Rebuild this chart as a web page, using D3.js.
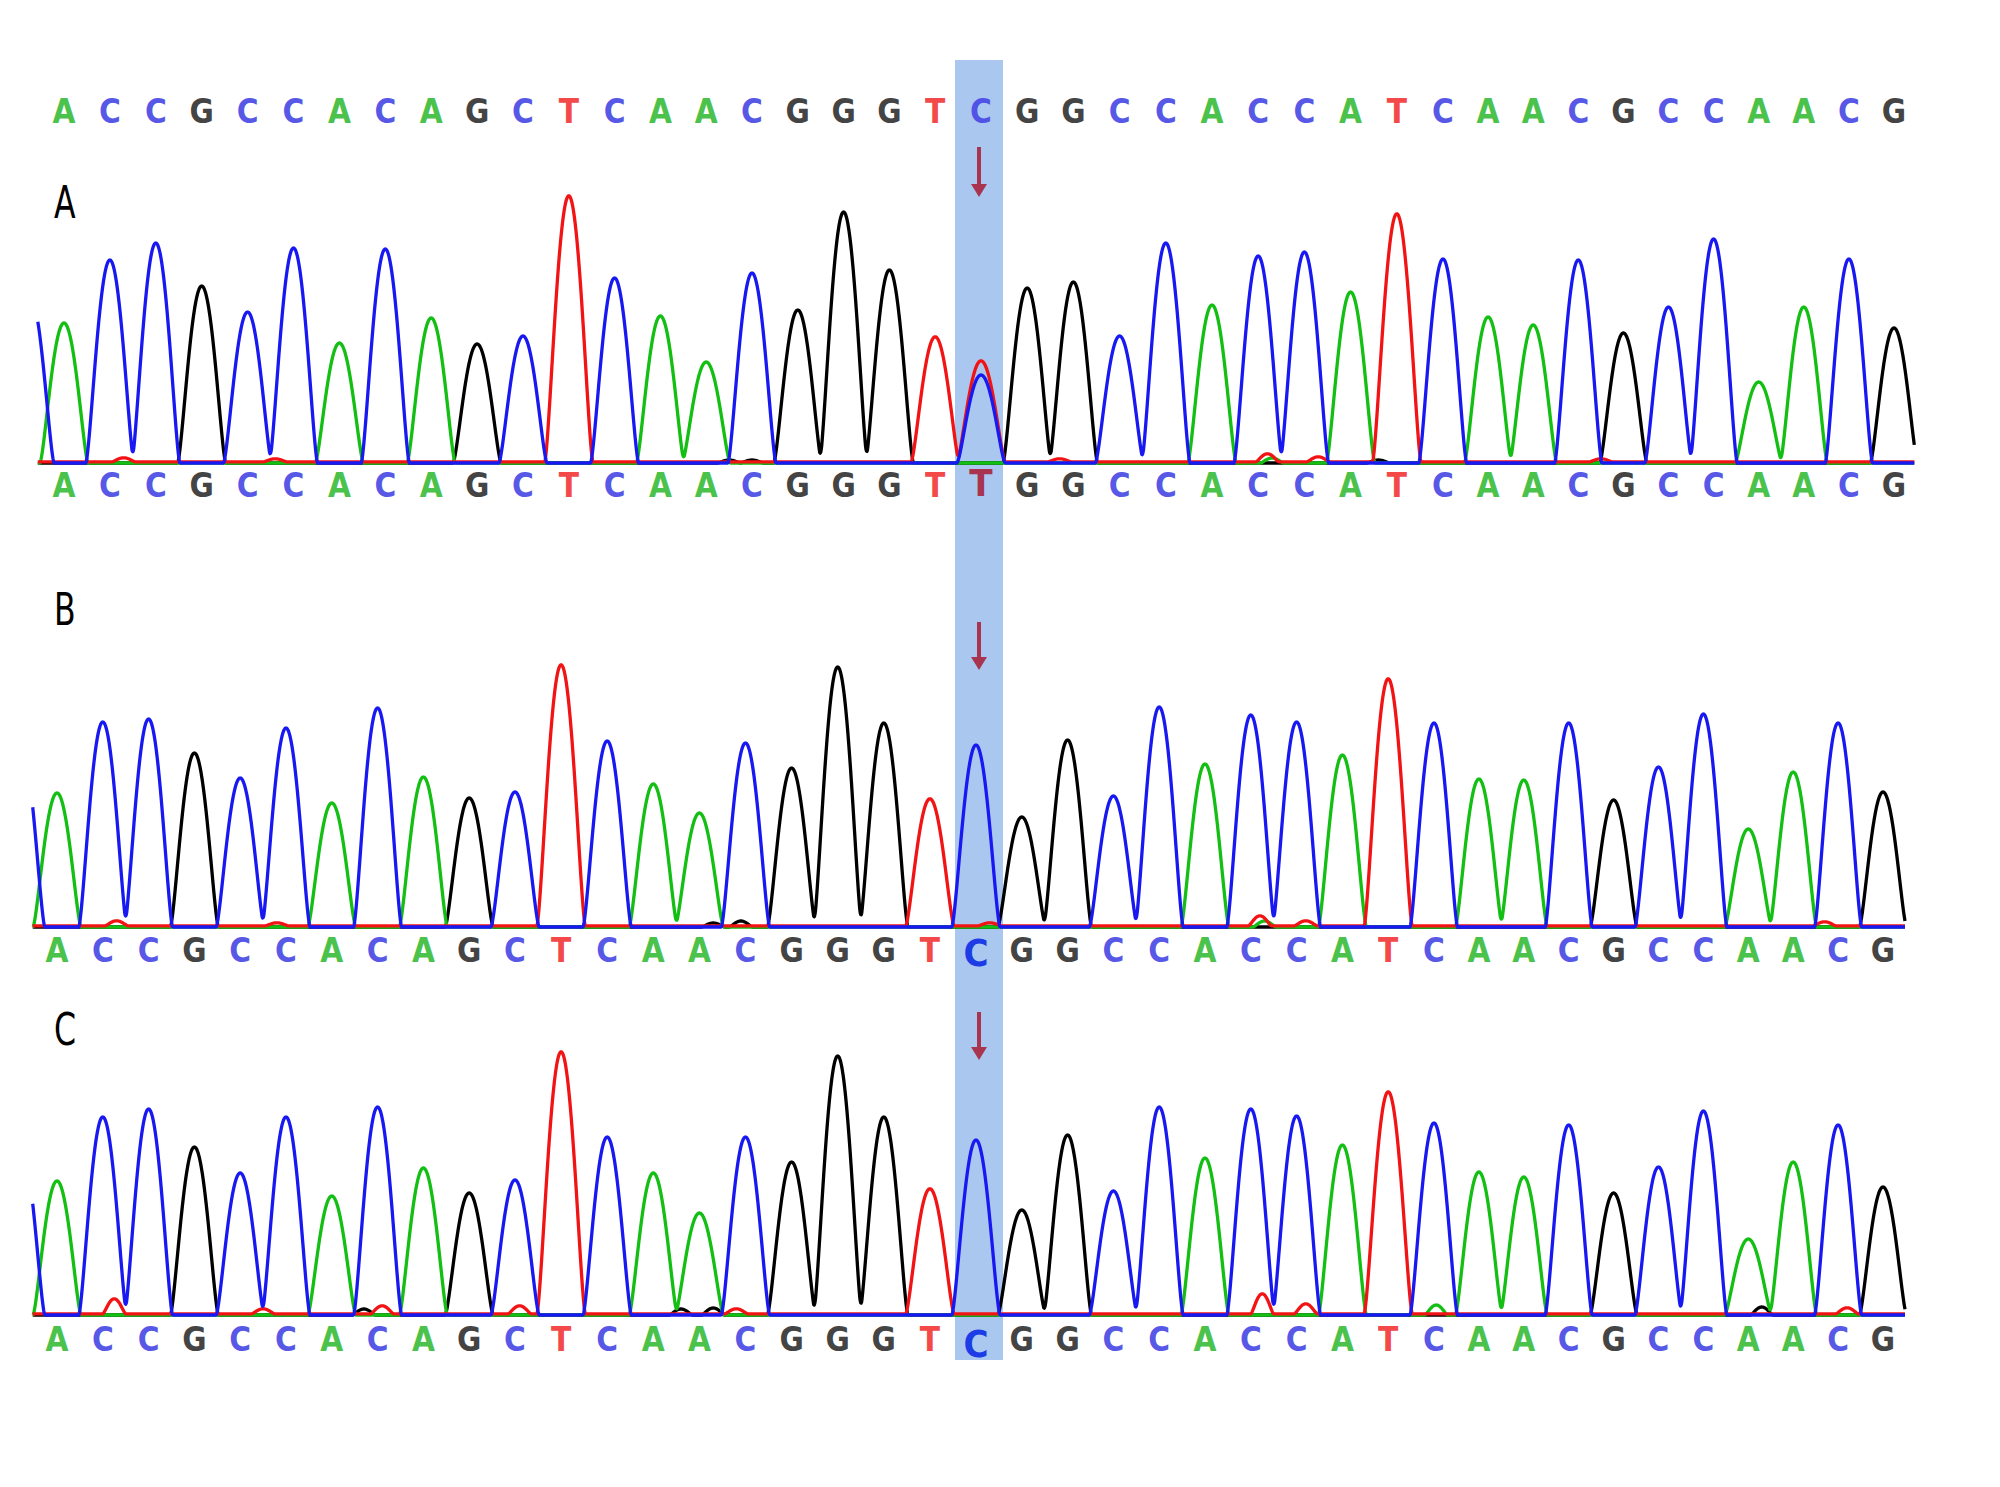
<!DOCTYPE html>
<html>
<head>
<meta charset="utf-8">
<script src="https://cdn.jsdelivr.net/npm/d3@7"></script>
<style>
  html, body { margin: 0; padding: 0; background: #fff; }
  svg { display: block; }
</style>
</head>
<body>
<script>
// reference sequence (top row of panel A)
const bases = ['A','C','C','G','C','C','A','C','A','G','C','T','C','A','A','C','G','G','G','T',
  'C','G','G','C','C','A','C','C','A','T','C','A','A','C','G','C','C','A','A','C','G'];

// base calls under each trace
const callA = ['A','C','C','G','C','C','A','C','A','G','C','T','C','A','A','C','G','G','G','T',
  'T','G','G','C','C','A','C','C','A','T','C','A','A','C','G','C','C','A','A','C','G'];
const callB = bases;
const callC = bases;

// peak heights of the called base, one per position
const heightsA = [140,203,220,177,151,215,120,214,145,119,127,266,185,147,101,190,153,251,193,125,
  101,175,181,127,220,158,207,211,171,248,204,146,138,203,130,156,224,81,156,204,135];
const heightsB = [134,205,208,174,149,199,124,219,150,129,135,261,186,143,114,184,159,260,204,127,
  182,110,187,131,220,163,212,205,172,247,204,148,147,204,127,160,213,98,155,204,135];
const heightsC = [134,198,206,168,142,198,119,208,147,122,135,262,178,142,102,178,153,259,198,125,
  175,105,180,124,208,157,206,199,170,222,192,143,138,190,122,148,204,76,153,190,128];

// extra peaks: [base, position, height]  (secondary C under the T call, tail of previous peak)
const extraA = [['C', 20, 88], ['C', -0.74, 167]];
const extraB = [['C', -0.79, 183]];
const extraC = [['C', -0.79, 170]];

// small baseline bumps: [base, position, height]
const noiseA = [['T',1.3,4],['T',4.6,3],['G',14.5,3],['G',15,3],['T',21.7,3],['T',26.2,8],['A',26.3,5],['T',27.3,5],['G',28.6,3],['T',33.5,3]];
const noiseB = [['T',1.3,5],['T',4.8,3],['G',14.3,4],['G',14.9,6],['T',20.3,3],['T',26.2,10],['A',26.3,6],['T',27.2,5],['T',38.7,4]];
const noiseC = [['T',1.25,15],['T',4.5,5],['G',6.7,6],['T',7.1,8],['T',10.1,8],['G',13.6,6],['G',14.3,7],['T',14.8,5],
  ['T',26.25,20],['T',27.2,10],['A',30.05,10],['G',37.3,8],['T',39.2,6]];

const mutationIndex = 20;

const W = 2000, H = 1487;
const traceColor = { A: '#12bf12', C: '#1818f2', G: '#000000', T: '#f21414' };
const letterColor = { A: '#3cbd3c', C: '#4a4ae6', G: '#353535', T: '#f23a3a' };
const drawOrder = ['G', 'A', 'T', 'C'];
const narrow = '"Liberation Sans Narrow", "DejaVu Sans Condensed", "DejaVu Sans", sans-serif';

const panels = [
  { label: 'A', calls: callA, heights: heightsA, extra: extraA, noise: noiseA,
    stops: [64, 523, 981, 1443, 1894], base: 463, span: [-0.57, 40.46], labelY: 218, arrow: [147, 197],
    callY: 497, hiColor: '#a8344f', hiY: 496, topY: 123 },
  { label: 'B', calls: callB, heights: heightsB, extra: extraB, noise: noiseB,
    stops: [57, 515, 976, 1434, 1883], base: 927, span: [-0.53, 40.5], labelY: 625, arrow: [622, 670],
    callY: 962, hiColor: '#1c3ce6', hiY: 966 },
  { label: 'C', calls: callC, heights: heightsC, extra: extraC, noise: noiseC,
    stops: [57, 515, 976, 1434, 1883], base: 1315, span: [-0.53, 40.5], labelY: 1045, arrow: [1012, 1060],
    callY: 1351, hiColor: '#1c3ce6', hiY: 1357 }
];

const svg = d3.select('body').append('svg')
    .attr('width', W)
    .attr('height', H);

svg.append('rect').attr('width', W).attr('height', H).attr('fill', '#fff');

// highlighted column
const xTop = d3.scaleLinear().domain([0, 10, 20, 30, 40]).range(panels[0].stops);
const bandX = xTop(mutationIndex) - 2;
svg.append('rect')
    .attr('x', bandX - 24)
    .attr('y', 60)
    .attr('width', 48)
    .attr('height', 1300)
    .attr('fill', '#aac8ef');

// peak shape: (1 - u^2)^1.5 on |u| < 1
const halfWidth = 0.524, halfWidthNoise = 0.25;
const kernel = (d, w) => {
  const u = d / w;
  return Math.abs(u) >= 1 ? 0 : Math.pow(1 - u * u, 1.5);
};

panels.forEach((p) => {
  const x = d3.scaleLinear().domain([0, 10, 20, 30, 40]).range(p.stops);
  const y = d3.scaleLinear().domain([0, 300]).range([p.base, p.base - 300]);
  const g = svg.append('g').attr('class', 'panel');

  // reference sequence row only above panel A
  if (p.topY) {
    g.append('g').selectAll('text')
        .data(bases)
      .enter().append('text')
        .attr('x', (d, i) => x(i))
        .attr('y', p.topY)
        .attr('text-anchor', 'middle')
        .style('font-family', narrow)
        .style('font-stretch', 'condensed')
        .style('font-weight', 'bold')
        .style('font-size', '33px')
        .style('fill', (d) => letterColor[d])
        .style('opacity', 0.92)
        .text((d) => d);
  }

  // panel label
  g.append('text')
      .attr('transform', `translate(54,${p.labelY}) scale(0.78,1)`)
      .style('font-family', narrow)
      .style('font-size', '45px')
      .style('fill', '#000')
      .text(p.label);

  // arrow pointing at the mutated base
  g.append('line')
      .attr('x1', bandX).attr('x2', bandX)
      .attr('y1', p.arrow[0]).attr('y2', p.arrow[1] - 10)
      .attr('stroke', '#a8344f')
      .attr('stroke-width', 4);
  g.append('path')
      .attr('d', `M${bandX - 8},${p.arrow[1] - 13}L${bandX + 8},${p.arrow[1] - 13}L${bandX},${p.arrow[1]}Z`)
      .attr('fill', '#a8344f');

  // traces
  const peaks = p.calls.map((b, i) => ({ b, pos: i, h: p.heights[i], w: halfWidth }))
      .concat(p.extra.map((e) => ({ b: e[0], pos: e[1], h: e[2], w: halfWidth })))
      .concat(p.noise.map((e) => ({ b: e[0], pos: e[1], h: e[2], w: halfWidthNoise })));
  const ts = d3.range(p.span[0], p.span[1], 0.01);

  const line = d3.line()
      .x((d) => x(d[0]))
      .y((d) => y(d[1]));

  drawOrder.forEach((ch) => {
    const mine = peaks.filter((k) => k.b === ch);
    const lift = ch === 'T' ? 1.2 : 0;
    const pts = ts.map((t) => [t, lift + d3.sum(mine, (k) => k.h * kernel(t - k.pos, k.w))]);
    g.append('path')
        .datum(pts)
        .attr('d', line)
        .attr('fill', 'none')
        .attr('stroke', traceColor[ch])
        .attr('stroke-width', 3.3)
        .attr('stroke-linejoin', 'round');
  });

  // base calls
  g.append('g').selectAll('text')
      .data(p.calls)
    .enter().append('text')
      .attr('x', (d, i) => x(i))
      .attr('y', (d, i) => (i === mutationIndex ? p.hiY : p.callY))
      .attr('text-anchor', 'middle')
      .style('font-family', narrow)
      .style('font-stretch', 'condensed')
      .style('font-weight', 'bold')
      .style('font-size', (d, i) => (i === mutationIndex ? '38px' : '33px'))
      .style('fill', (d, i) => (i === mutationIndex ? p.hiColor : letterColor[d]))
      .style('opacity', (d, i) => (i === mutationIndex ? 1 : 0.92))
      .text((d) => d);
});
</script>
</body>
</html>
